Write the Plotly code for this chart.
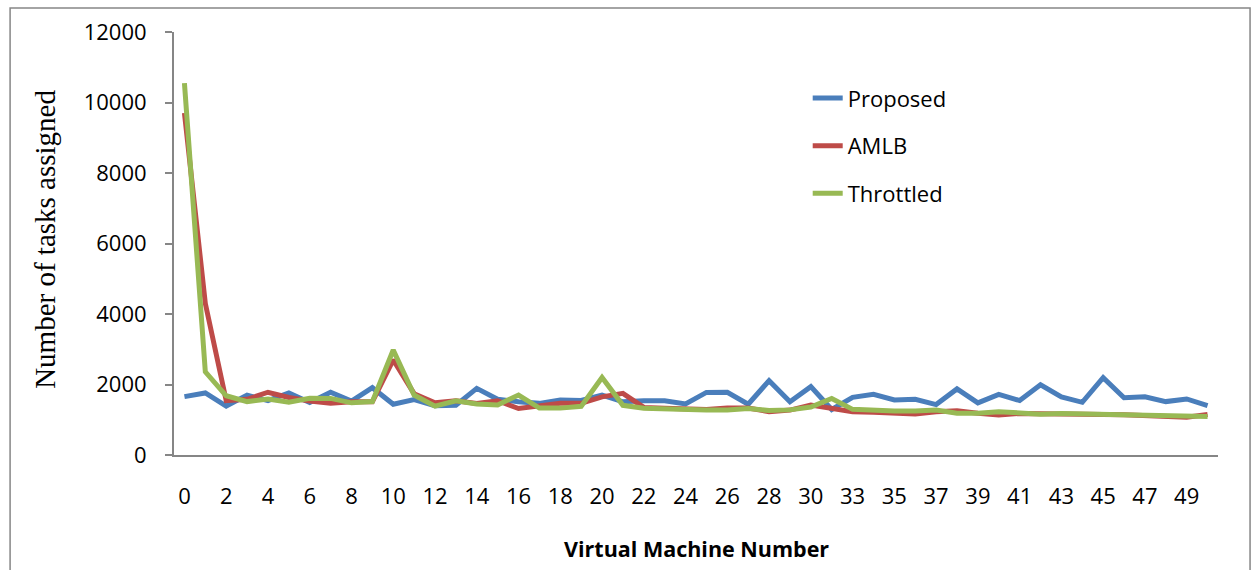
import plotly.graph_objects as go

# Virtual machine identifiers (category axis)
vm_labels = ["0", "1", "2", "3", "4", "5", "6", "7", "8", "9",
             "10", "11", "12", "13", "14", "15", "16", "17", "18", "19",
             "20", "21", "22", "23", "24", "25", "26", "27", "28", "29",
             "30", "31", "33", "34", "35", "36", "37", "38", "39", "40",
             "41", "42", "43", "44", "45", "46", "47", "48", "49", "50"]

# Number of tasks assigned to each VM
proposed = [1655, 1760, 1390, 1700, 1540, 1760, 1490, 1780, 1530, 1910,
            1440, 1570, 1400, 1410, 1890, 1580, 1510, 1465, 1560, 1545,
            1700, 1510, 1540, 1540, 1450, 1775, 1780, 1440, 2110, 1510,
            1940, 1290, 1636, 1720, 1560, 1580, 1430, 1875, 1480, 1720,
            1545, 1990, 1650, 1495, 2195, 1625, 1650, 1515, 1590, 1400]

amlb = [9700, 4300, 1540, 1580, 1780, 1630, 1530, 1465, 1510, 1510,
        2700, 1740, 1480, 1540, 1460, 1540, 1320, 1400, 1465, 1465,
        1650, 1750, 1350, 1325, 1305, 1290, 1335, 1330, 1230, 1275,
        1415, 1320, 1230, 1210, 1200, 1165, 1230, 1255, 1185, 1135,
        1180, 1180, 1155, 1160, 1150, 1140, 1105, 1070, 1070, 1150]

throttled = [10550, 2360, 1680, 1515, 1590, 1495, 1610, 1605, 1480, 1515,
             2980, 1700, 1385, 1540, 1445, 1420, 1700, 1330, 1330, 1380,
             2200, 1410, 1325, 1300, 1280, 1275, 1280, 1320, 1260, 1280,
             1360, 1605, 1295, 1258, 1248, 1245, 1275, 1185, 1185, 1230,
             1210, 1155, 1180, 1165, 1160, 1135, 1115, 1090, 1090, 1090]

y_ticks = [0, 2000, 4000, 6000, 8000, 10000, 12000]

series = [
    ("Proposed", proposed, "#4A7EBB"),
    ("AMLB", amlb, "#BE4B48"),
    ("Throttled", throttled, "#98B954"),
]

fig = go.Figure()
for name, values, color in series:
    fig.add_trace(go.Scatter(
        x=vm_labels, y=values, name=name, mode="lines",
        legendgroup=name,
        line=dict(color=color, width=5),
    ))

axis_grey = "#868686"
sans = "Open Sans"

fig.update_layout(
    width=1255, height=570,
    margin=dict(l=174, r=37, t=32, b=115),
    paper_bgcolor="white", plot_bgcolor="white",
    font=dict(family=sans, size=22, color="#000000"),
    showlegend=True,
    legend=dict(
        x=0.607, y=0.893, xanchor="left", yanchor="top",
        font=dict(family=sans, size=22, color="#000000"),
        tracegroupgap=16, bgcolor="rgba(0,0,0,0)",
    ),
    xaxis=dict(
        type="category", range=[-0.5, 49.5],
        tickmode="linear", tick0=0, dtick=2,
        showline=True, linecolor=axis_grey, linewidth=2,
        showgrid=False, zeroline=False, ticks="",
        ticklabelstandoff=21,
        tickfont=dict(family=sans, size=22, color="#000000"),
    ),
    yaxis=dict(
        range=[0, 12000], tickmode="array", tickvals=y_ticks,
        ticktext=[str(v) for v in y_ticks],
        showline=True, linecolor=axis_grey, linewidth=2,
        showgrid=False, zeroline=False,
        ticks="outside", ticklen=7, tickcolor=axis_grey, tickwidth=1.5,
        ticklabelstandoff=14,
        tickfont=dict(family=sans, size=22, color="#000000"),
    ),
    shapes=[dict(
        type="rect", xref="paper", yref="paper",
        x0=-0.157, x1=1.0307, y0=-0.30, y1=1.0567,
        line=dict(color=axis_grey, width=1.5), fillcolor="rgba(0,0,0,0)",
    )],
    annotations=[
        dict(text="Number of tasks assigned", textangle=-90,
             xref="paper", yref="paper", x=-0.123, y=0.51,
             xanchor="center", yanchor="middle", showarrow=False,
             font=dict(family="Liberation Serif", size=29, color="#000000")),
        dict(text="<b>Virtual Machine Number</b>",
             xref="paper", yref="paper", x=0.5, y=-0.222,
             xanchor="center", yanchor="middle", showarrow=False,
             font=dict(family=sans, size=21.5, color="#000000")),
    ],
)

fig.write_html("out.html")
